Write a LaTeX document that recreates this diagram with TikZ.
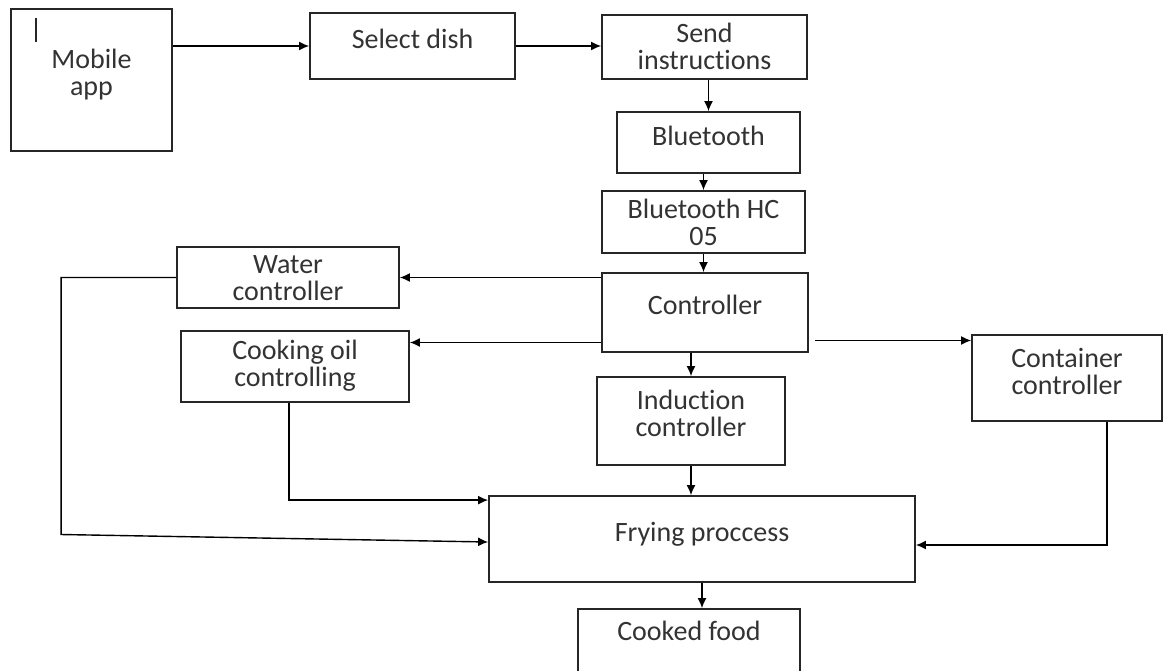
\documentclass[tikz,border=0pt]{standalone}
\usepackage{fontspec}
\setmainfont{Carlito}[Ligatures=NoCommon]
\usetikzlibrary{arrows.meta}
\tikzset{
  blk/.style={draw=black!85, line width=0.9pt, inner sep=0pt},
  lbl/.style={font=\fontsize{14}{13.5}\selectfont, text=black!80, align=center, inner sep=0pt, anchor=north},
}

\begin{document}
\begin{tikzpicture}[x=0.5pt, y=-0.5pt, >={Latex[length=5pt,width=4.5pt]}, line width=0.7pt]
\useasboundingbox[fill=white] (0,0) rectangle (1170,670);
% boxes
\node[blk, minimum width=80.5pt, minimum height=71pt, label={[lbl,yshift=-20pt]north:Mobile\\app}] (app) at (91.5,80) {};
\node[blk, minimum width=102.5pt, minimum height=33pt, label={[lbl,yshift=-8pt]north:Select dish}] (dish) at (412.5,46) {};
\node[blk, minimum width=102.5pt, minimum height=32pt, label={[lbl,yshift=-4pt]north:Send\\instructions}] (send) at (704.5,47) {};
\node[blk, minimum width=91.5pt, minimum height=30.5pt, label={[lbl,yshift=-7pt]north:Bluetooth}] (bt) at (708.5,142.5) {};
\node[blk, minimum width=101.5pt, minimum height=31pt, label={[lbl,yshift=-4pt]north:Bluetooth HC\\05}] (hc) at (703.5,222) {};
\node[blk, minimum width=111pt, minimum height=30.5pt, label={[lbl,yshift=-4.5pt]north:Water\\controller}] (water) at (288,277.5) {};
\node[blk, minimum width=103pt, minimum height=39.5pt, label={[lbl,yshift=-11pt]north:Controller}] (ctrl) at (705,312.5) {};
\node[blk, minimum width=114pt, minimum height=35.5pt, label={[lbl,yshift=-4.5pt]north:Cooking oil\\controlling}] (oil) at (295,366.5) {};
\node[blk, minimum width=95pt, minimum height=43pt, label={[lbl,yshift=-6.5pt]north:Container\\controller}] (cont) at (1067,378) {};
\node[blk, minimum width=94pt, minimum height=44pt, label={[lbl,yshift=-6.5pt]north:Induction\\controller}] (ind) at (691,421) {};
\node[blk, minimum width=213pt, minimum height=43pt, label={[lbl,yshift=-13pt]north:Frying proccess}] (fry) at (702,539) {};
\node[blk, minimum width=111pt, minimum height=45.5pt, label={[lbl,yshift=-6pt]north:Cooked food}] (food) at (689,654.5) {};
\draw[line width=0.6pt, black!85] (36,18) -- (36,42);
% arrows
\draw[->] (app.east |- dish.west) -- (dish.west);
\draw[->] (dish.east) -- (send.west |- dish.east);
\draw[->] (bt.north |- send.south) -- (bt.north);
\draw[->] (hc.north |- bt.south) -- (hc.north);
\draw[->] (hc.south) -- (hc.south |- ctrl.north);
\draw[->] (ctrl.west |- water.east) -- (water.east);
\draw[->] ([yshift=-15pt]ctrl.west) -- ([yshift=-15pt]ctrl.west -| oil.east);
\draw[->] ([xshift=3pt,yshift=-14pt]ctrl.east) -- ([yshift=-14pt]ctrl.east -| cont.west);
\draw[->] (ctrl.south -| ind.north) -- (ind.north);
\draw[->] (water.west) -- ++(-115,0) -- ++(0,257) -- ([yshift=-1.5pt]fry.west);
\draw[->] ([xshift=-3pt]oil.south) |- ([yshift=-2.5pt]fry.north west);
\draw[->] (ind.south) -- (ind.south |- fry.north);
\draw[->] ([xshift=20pt]cont.south) |- ([yshift=-3pt]fry.east);
\draw[->] (fry.south) -- (fry.south |- food.north);
\end{tikzpicture}
\end{document}
